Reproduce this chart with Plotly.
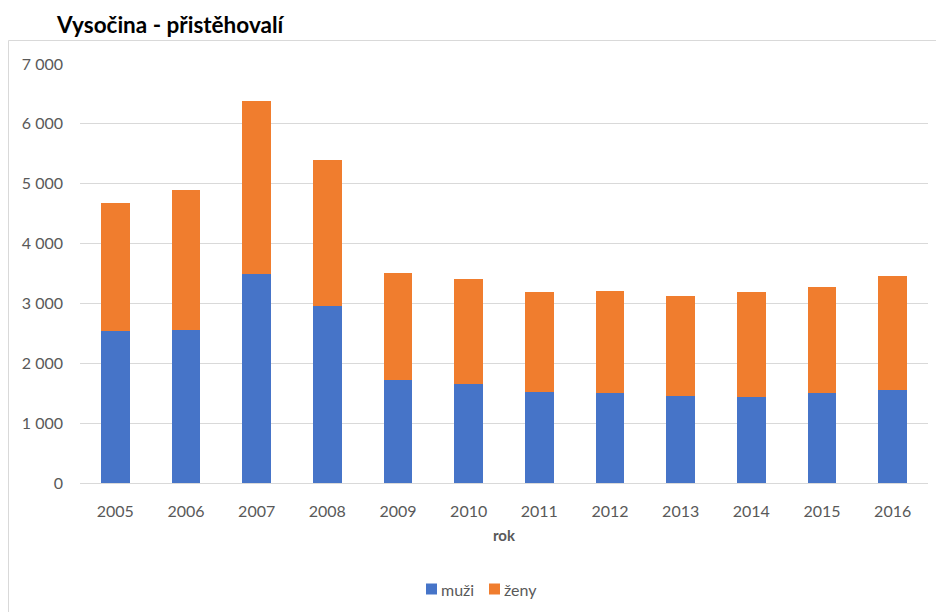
import plotly.graph_objects as go

years = ["2005", "2006", "2007", "2008", "2009", "2010", "2011", "2012", "2013", "2014", "2015", "2016"]
muzi = [2540, 2560, 3495, 2955, 1720, 1660, 1520, 1500, 1455, 1435, 1500, 1555]
zeny_total = [4675, 4890, 6390, 5390, 3505, 3405, 3190, 3205, 3120, 3190, 3275, 3455]
zeny = [t - m for t, m in zip(zeny_total, muzi)]
y_tickvals = [0, 1000, 2000, 3000, 4000, 5000, 6000, 7000]
y_ticktext = ["0", "1 000", "2 000", "3 000", "4 000", "5 000", "6 000", "7 000"]
series_names = ["muži", "ženy"]
series_colors = ["#4674C8", "#F07D2E"]

FONT = "Lato, 'Open Sans', sans-serif"

fig = go.Figure()
fig.add_trace(go.Bar(x=years, y=muzi, name=series_names[0], marker=dict(color=series_colors[0], line=dict(width=0))))
fig.add_trace(go.Bar(x=years, y=zeny, name=series_names[1], marker=dict(color=series_colors[1], line=dict(width=0))))

W, H = 936, 612
L, R, T, B = 80, 8, 64, 129
pw = W - L - R
ph = H - T - B

def px_x(p):
    return (p - L) / pw

def px_y(p):
    return (H - B - p) / ph

shapes = [dict(type="rect", xref="paper", yref="paper", x0=px_x(8.5), x1=px_x(940), y0=px_y(615), y1=px_y(40.5),
               line=dict(color="#D9D9D9", width=1), fillcolor="rgba(0,0,0,0)", layer="below")]
annotations = [dict(text="<b>Vysočina - přistěhovalí</b>", xref="paper", yref="paper",
                    x=px_x(54), y=px_y(25), xanchor="left", yanchor="middle", showarrow=False,
                    font=dict(family=FONT, size=22.5, color="#000000"))]

# manual compact legend
leg_sq_x = [426, 489]
leg_y = 589
for sx, name, col in zip(leg_sq_x, series_names, series_colors):
    shapes.append(dict(type="rect", xref="paper", yref="paper", x0=px_x(sx), x1=px_x(sx + 11),
                       y0=px_y(leg_y + 5.5), y1=px_y(leg_y - 5.5), line=dict(width=0), fillcolor=col))
    annotations.append(dict(text=name, xref="paper", yref="paper", x=px_x(sx + 13), y=px_y(leg_y),
                            xanchor="left", yanchor="middle", showarrow=False,
                            font=dict(family=FONT, size=16, color="#595959")))

fig.update_layout(
    width=W, height=H,
    margin=dict(l=L, r=R, t=T, b=B),
    barmode="stack",
    bargap=0.59,
    paper_bgcolor="white",
    plot_bgcolor="white",
    font=dict(family=FONT, size=16, color="#595959"),
    showlegend=False,
    xaxis=dict(showgrid=False, showline=False, ticks="", tickfont=dict(size=16, color="#595959"),
               ticklabelstandoff=17,
               title=dict(text="<b>rok</b>", font=dict(size=15, color="#595959"), standoff=11)),
    yaxis=dict(range=[0, 7000], tickvals=y_tickvals, ticktext=y_ticktext, showgrid=True,
               gridcolor="#D9D9D9", gridwidth=1, zeroline=True, zerolinecolor="#D9D9D9", zerolinewidth=1,
               showline=False, ticks="", tickfont=dict(size=16, color="#595959"), ticklabelstandoff=16),
    annotations=annotations,
    shapes=shapes,
)

fig.write_html("out.html")
